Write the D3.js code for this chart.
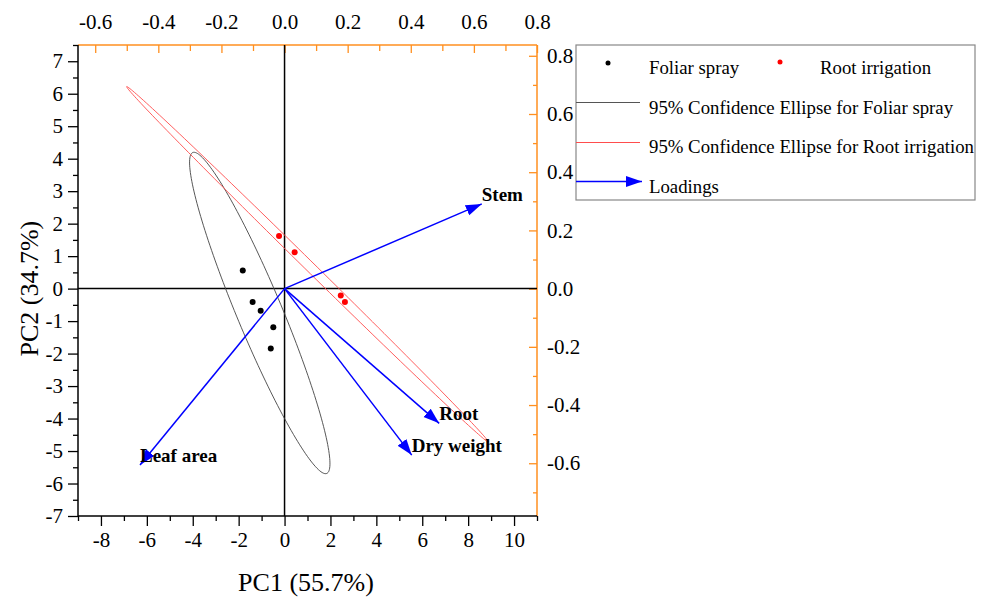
<!DOCTYPE html>
<html><head><meta charset="utf-8">
<script src="https://cdn.jsdelivr.net/npm/d3@7"></script>
<style>
html,body{margin:0;padding:0;background:#fff;}
svg text{font-family:"Liberation Serif","Times New Roman",serif;}
</style></head>
<body><svg id="c" width="986" height="601"></svg>
<script>
// ---- data ----
const pc1Ticks = [-8,-6,-4,-2,0,2,4,6,8,10];
const pc2Ticks = [-7,-6,-5,-4,-3,-2,-1,0,1,2,3,4,5,6,7];
const loadXTicks = [-0.6,-0.4,-0.2,0.0,0.2,0.4,0.6,0.8];
const loadYTicks = [-0.6,-0.4,-0.2,0.0,0.2,0.4,0.6,0.8];

const foliarPC1 = [-1.82,-1.39,-1.04,-0.49,-0.60];
const foliarPC2 = [0.56,-0.41,-0.68,-1.19,-1.84];
const rootPC1 = [-0.24,0.44,2.45,2.63];
const rootPC2 = [1.62,1.12,-0.21,-0.41];

const ellipseNames = ["Foliar spray","Root irrigation"];
const ellipseCX = [-1.08, 1.00];
const ellipseCY = [-0.75, 0.75];
const ellipseMajX = [2.92, 7.88];
const ellipseMajY = [-4.94, -5.47];
const ellipseMinX = [0.91, 0.146];
const ellipseMinY = [0.268, 0.105];

const loadingNames = ["Stem","Root","Dry weight","Leaf area"];
const loadingX = [0.625, 0.490, 0.403, -0.458];
const loadingY = [0.291, -0.463, -0.572, -0.606];

// ---- layout ----
const L=78,R=537,T=45,B=516;
const orange="#ff8f1f";
const svg=d3.select("#c");
const x=d3.scaleLinear([-9,11],[L,R]);
const y=d3.scaleLinear([-7,7.5],[B,T]);
const kx=13.75, ky=8.96;
const x2=d3.scaleLinear([-9/kx,11/kx],[L,R]);
const y2=d3.scaleLinear([-7/ky,7.5/ky],[B,T]);
const fmtInt=d=>String(d);
const fmt1=d=>d.toFixed(1);

function styleAxis(g,color,fs){
  g.attr("font-family",null);
  g.selectAll(".domain").remove();
  g.selectAll(".tick line").attr("stroke",color).attr("stroke-width",1.3);
  g.selectAll(".tick text").attr("fill","#000").style("font-size",fs+"px").style("font-family","Liberation Serif");
}
const fs=21;
// bottom
const minorX=d3.range(-9,12,1).filter(v=>v%2!==0);
svg.append("g").attr("transform",`translate(0,${B})`).call(d3.axisBottom(x).tickValues(minorX).tickSize(5).tickFormat("")).call(g=>styleAxis(g,"#000",fs));
svg.append("g").attr("transform",`translate(0,${B})`).call(d3.axisBottom(x).tickValues(pc1Ticks).tickSize(10).tickPadding(6).tickFormat(fmtInt)).call(g=>styleAxis(g,"#000",fs));
// left
const minorY=d3.range(-6.5,7.6,1);
svg.append("g").attr("transform",`translate(${L},0)`).call(d3.axisLeft(y).tickValues(minorY).tickSize(5).tickFormat("")).call(g=>styleAxis(g,"#000",fs));
svg.append("g").attr("transform",`translate(${L},0)`).call(d3.axisLeft(y).tickValues(pc2Ticks).tickSize(10).tickPadding(5).tickFormat(fmtInt)).call(g=>styleAxis(g,"#000",fs));
// top (inward)
const minorX2=[-0.5,-0.3,-0.1,0.1,0.3,0.5,0.7];
svg.append("g").attr("transform",`translate(0,${T})`).call(d3.axisTop(x2).tickValues(minorX2).tickSize(-6).tickFormat("")).call(g=>styleAxis(g,orange,fs));
svg.append("g").attr("transform",`translate(0,${T})`).call(d3.axisTop(x2).tickValues(loadXTicks).tickSize(-8).tickPadding(16).tickFormat(fmt1)).call(g=>styleAxis(g,orange,fs));
// right (inward)
const minorY2=[-0.7,-0.5,-0.3,-0.1,0.1,0.3,0.5,0.7];
svg.append("g").attr("transform",`translate(${R},0)`).call(d3.axisRight(y2).tickValues(minorY2).tickSize(-4).tickFormat("")).call(g=>styleAxis(g,orange,fs));
svg.append("g").attr("transform",`translate(${R},0)`).call(d3.axisRight(y2).tickValues(loadYTicks).tickSize(-8).tickPadding(10).tickFormat(fmt1)).call(g=>styleAxis(g,orange,fs));

// frame
svg.append("line").attr("x1",L).attr("x2",R).attr("y1",T).attr("y2",T).attr("stroke",orange).attr("stroke-width",1.5);
svg.append("line").attr("x1",R).attr("x2",R).attr("y1",T).attr("y2",B).attr("stroke",orange).attr("stroke-width",1.5);
svg.append("line").attr("x1",L).attr("x2",R).attr("y1",B).attr("y2",B).attr("stroke","#000").attr("stroke-width",1.5);
svg.append("line").attr("x1",L).attr("x2",L).attr("y1",T).attr("y2",B).attr("stroke","#000").attr("stroke-width",1.5);

// zero lines
svg.append("line").attr("x1",L).attr("x2",R).attr("y1",y(0)).attr("y2",y(0)).attr("stroke","#000").attr("stroke-width",1.5);
svg.append("line").attr("x1",x(0)).attr("x2",x(0)).attr("y1",T).attr("y2",B).attr("stroke","#000").attr("stroke-width",1.5);

// axis titles
svg.append("text").attr("x",306).attr("y",591).attr("text-anchor","middle").style("font-size","26px").text("PC1 (55.7%)");
svg.append("text").attr("transform",`translate(38,${y(0)}) rotate(-90)`).attr("text-anchor","middle").style("font-size","26px").text("PC2 (34.7%)");

// ellipses
const ellColors=["#444444","#ff4d4d"];
const ts=d3.range(0,361,2).map(d=>d*Math.PI/180);
ellipseNames.forEach((n,i)=>{
  const pts=ts.map(t=>[x(ellipseCX[i]+ellipseMajX[i]*Math.cos(t)+ellipseMinX[i]*Math.sin(t)),
                       y(ellipseCY[i]+ellipseMajY[i]*Math.cos(t)+ellipseMinY[i]*Math.sin(t))]);
  svg.append("path").attr("d",d3.line().curve(d3.curveLinearClosed)(pts)).attr("fill","none").attr("stroke",ellColors[i]).attr("stroke-width",0.9);
});

// loadings
const defs=svg.append("defs");
defs.append("marker").attr("id","ah").attr("markerUnits","userSpaceOnUse").attr("markerWidth",18).attr("markerHeight",14)
  .attr("viewBox","0 0 18 14").attr("refX",16).attr("refY",7).attr("orient","auto")
  .append("path").attr("d","M0,1.5 L16,7 L0,12.5 Z").attr("fill","#0000ff");
loadingNames.forEach((n,i)=>{
  svg.append("line").attr("x1",x2(0)).attr("y1",y2(0)).attr("x2",x2(loadingX[i])).attr("y2",y2(loadingY[i]))
    .attr("stroke","#0000ff").attr("stroke-width",1.5).attr("marker-end","url(#ah)");
});
loadingNames.forEach((n,i)=>{
  svg.append("text").attr("x",x2(loadingX[i])).attr("y",y2(loadingY[i])-10).attr("dy","0.35em")
    .style("font-size","19px").style("font-weight","bold").text(n);
});

// points
svg.selectAll(".fp").data(foliarPC1).enter().append("circle").attr("cx",d=>x(d)).attr("cy",(d,i)=>y(foliarPC2[i])).attr("r",3).attr("fill","#000");
svg.selectAll(".rp").data(rootPC1).enter().append("circle").attr("cx",d=>x(d)).attr("cy",(d,i)=>y(rootPC2[i])).attr("r",3).attr("fill","#ff0000");

// legend
const lg=svg.append("g");
lg.append("rect").attr("x",576).attr("y",45).attr("width",399).attr("height",155).attr("fill","#fff").attr("stroke","#888").attr("stroke-width",1.2);
const lfs="18.8px";
lg.append("circle").attr("cx",608).attr("cy",63).attr("r",2.5).attr("fill","#000");
lg.append("text").attr("x",649).attr("y",67).attr("dy","0.35em").style("font-size",lfs).text("Foliar spray");
lg.append("circle").attr("cx",780).attr("cy",62).attr("r",2.5).attr("fill","#ff0000");
lg.append("text").attr("x",820).attr("y",67).attr("dy","0.35em").style("font-size",lfs).text("Root irrigation");
lg.append("line").attr("x1",576).attr("x2",640).attr("y1",102.5).attr("y2",102.5).attr("stroke","#555").attr("stroke-width",1);
lg.append("text").attr("x",649).attr("y",107).attr("dy","0.35em").style("font-size",lfs).text("95% Confidence Ellipse for Foliar spray");
lg.append("line").attr("x1",576).attr("x2",640).attr("y1",142.5).attr("y2",142.5).attr("stroke","#ff4d4d").attr("stroke-width",1);
lg.append("text").attr("x",649).attr("y",146).attr("dy","0.35em").style("font-size",lfs).text("95% Confidence Ellipse for Root irrigation");
lg.append("line").attr("x1",576).attr("x2",642).attr("y1",181.5).attr("y2",181.5).attr("stroke","#0000ff").attr("stroke-width",1.5).attr("marker-end","url(#ah)");
lg.append("text").attr("x",649).attr("y",186).attr("dy","0.35em").style("font-size",lfs).text("Loadings");
</script></body></html>
